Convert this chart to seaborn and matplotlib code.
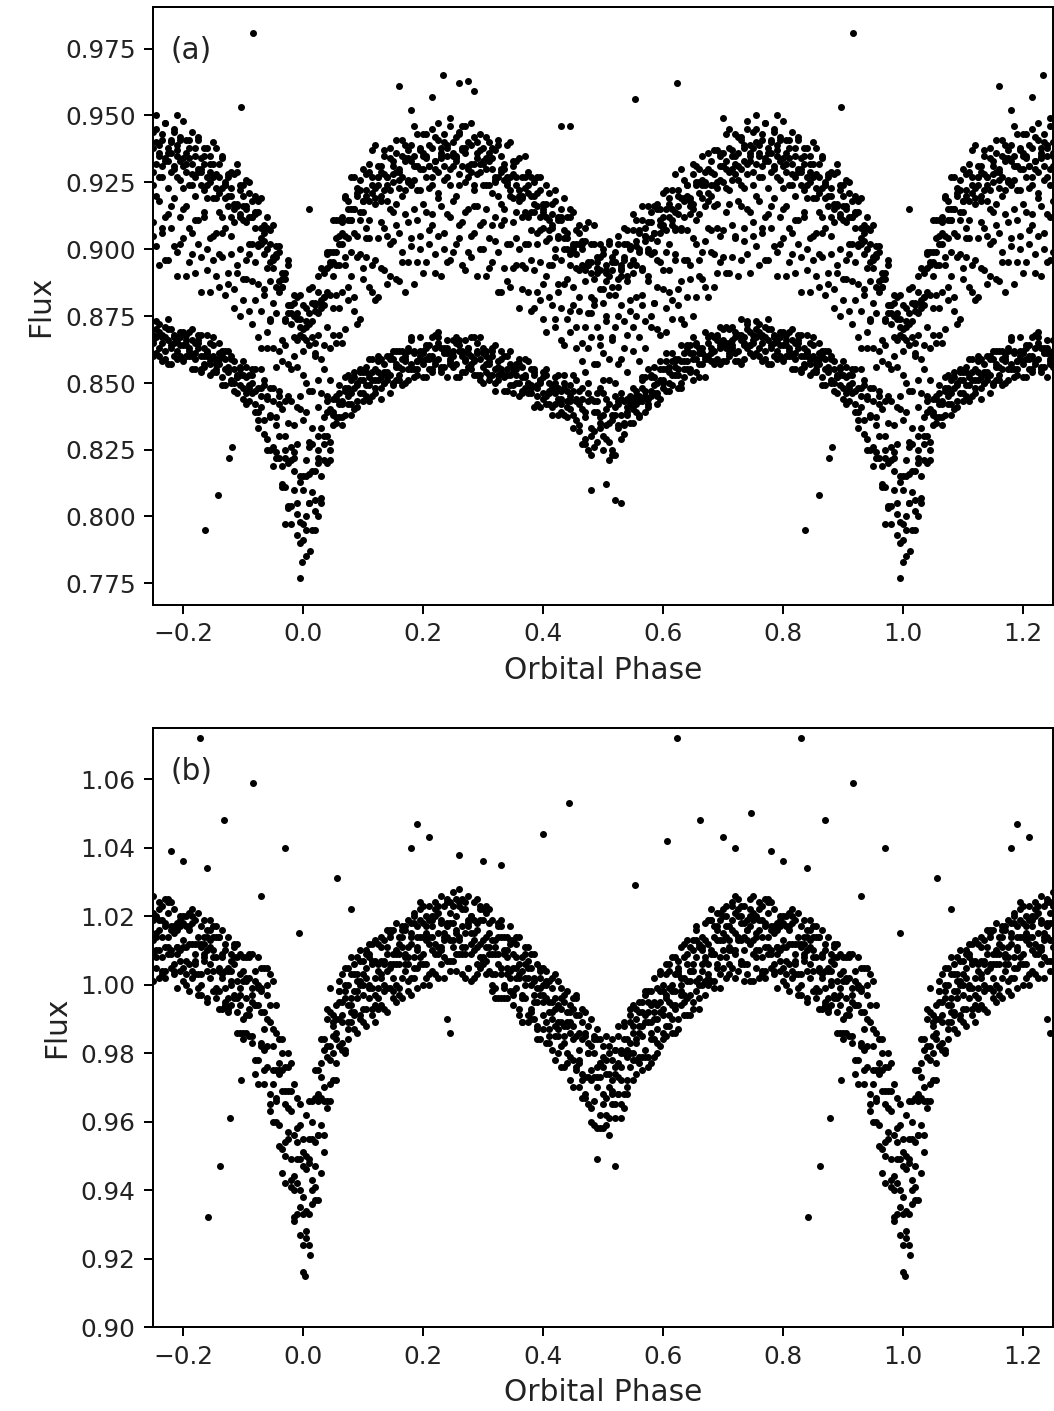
import numpy as np
import pandas as pd
import matplotlib
matplotlib.use("Agg")
import matplotlib.pyplot as plt
import seaborn as sns

# ---------------- data (phase in [0,1), flux in milli-units) ----------------
phase = [
0.000,0.005,0.010,0.015,0.020,0.025,0.030,0.035,0.040,0.045,0.050,0.055,0.060,0.065,0.070,0.075,0.080,0.085,0.090,0.095,
0.100,0.105,0.110,0.115,0.120,0.125,0.130,0.135,0.140,0.145,0.150,0.155,0.160,0.165,0.170,0.175,0.180,0.185,0.190,0.195,
0.200,0.205,0.210,0.215,0.220,0.225,0.230,0.235,0.240,0.245,0.250,0.255,0.260,0.265,0.270,0.275,0.280,0.285,0.290,0.295,
0.300,0.305,0.310,0.315,0.320,0.325,0.330,0.335,0.340,0.345,0.350,0.355,0.360,0.365,0.370,0.375,0.380,0.385,0.390,0.395,
0.400,0.405,0.410,0.415,0.420,0.425,0.430,0.435,0.440,0.445,0.450,0.455,0.460,0.465,0.470,0.475,0.480,0.485,0.490,0.495,
0.500,0.505,0.510,0.515,0.520,0.525,0.530,0.535,0.540,0.545,0.550,0.555,0.560,0.565,0.570,0.575,0.580,0.585,0.590,0.595,
0.600,0.605,0.610,0.615,0.620,0.625,0.630,0.635,0.640,0.645,0.650,0.655,0.660,0.665,0.670,0.675,0.680,0.685,0.690,0.695,
0.700,0.705,0.710,0.715,0.720,0.725,0.730,0.735,0.740,0.745,0.750,0.755,0.760,0.765,0.770,0.775,0.780,0.785,0.790,0.795,
0.800,0.805,0.810,0.815,0.820,0.825,0.830,0.835,0.840,0.845,0.850,0.855,0.860,0.865,0.870,0.875,0.880,0.885,0.890,0.895,
0.900,0.905,0.910,0.915,0.920,0.925,0.930,0.935,0.940,0.945,0.950,0.955,0.960,0.965,0.970,0.975,0.980,0.985,0.990,0.995]

# panel (a): upper branch (middle, upper edge, lower edge) and lower branch levels
upper_a = [
871,871,872,874,876,879,883,886,890,893,897,900,904,907,910,912,914,915,917,918,
920,921,922,923,924,925,926,926,927,927,928,928,929,929,930,930,931,931,932,932,
933,933,933,933,934,934,934,934,935,935,935,935,935,935,934,934,934,934,933,933,
932,931,931,930,930,929,928,927,927,926,925,924,923,922,921,920,919,918,917,915,
913,912,911,910,909,908,907,906,905,904,903,901,900,899,898,896,895,894,893,892,
891,891,891,892,893,894,895,896,897,898,900,901,902,903,904,905,906,907,908,909,
910,911,912,913,914,915,916,917,918,919,920,921,922,923,924,925,926,927,928,929,
930,931,932,932,933,933,934,934,935,935,936,936,936,936,936,935,935,935,935,934,
934,933,933,932,932,931,930,929,929,928,927,926,925,924,923,922,921,920,919,918,
917,915,914,912,911,909,907,904,902,899,897,894,891,887,884,881,878,875,873,872]

upper_a_top = [
876,876,877,879,881,884,888,891,895,898,902,905,909,912,915,917,919,920,922,923,
925,926,927,928,929,930,931,931,932,932,933,933,934,934,935,935,936,936,937,937,
938,938,938,938,939,939,939,939,940,940,940,940,940,940,939,939,939,939,938,938,
937,936,936,935,935,934,933,932,932,931,930,929,928,927,926,925,924,923,922,920,
918,917,916,915,914,913,912,911,910,909,908,906,905,904,903,901,900,899,898,897,
896,896,896,897,898,899,900,901,902,903,905,906,907,908,909,910,911,912,913,914,
915,916,917,918,919,920,921,922,923,924,925,926,927,928,929,930,931,932,933,934,
935,936,937,937,938,938,939,939,940,940,941,941,941,941,941,940,940,940,940,939,
939,938,938,937,937,936,935,934,934,933,932,931,930,929,928,927,926,925,924,923,
922,920,919,917,916,914,912,909,907,904,902,899,896,892,889,886,883,880,878,877]

upper_a_bot = [
866,866,867,869,871,874,878,881,885,888,892,895,899,902,905,907,909,910,912,913,
915,916,917,918,919,920,921,921,922,922,923,923,924,924,925,925,926,926,927,927,
928,928,928,928,929,929,929,929,930,930,930,930,930,930,929,929,929,929,928,928,
927,926,926,925,925,924,923,922,922,921,920,919,918,917,916,915,914,913,912,910,
908,907,906,905,904,903,902,901,900,899,898,896,895,894,893,891,890,889,888,887,
886,886,886,887,888,889,890,891,892,893,895,896,897,898,899,900,901,902,903,904,
905,906,907,908,909,910,911,912,913,914,915,916,917,918,919,920,921,922,923,924,
925,926,927,927,928,928,929,929,930,930,931,931,931,931,931,930,930,930,930,929,
929,928,928,927,927,926,925,924,924,923,922,921,920,919,918,917,916,915,914,913,
912,910,909,907,906,904,902,899,897,894,892,889,886,882,879,876,873,870,868,867]

lower_a = [
805,806,808,811,814,818,822,826,830,834,837,839,841,843,844,845,846,847,848,848,
849,850,850,851,851,852,852,853,853,854,854,855,855,856,856,857,857,858,858,858,
859,859,859,860,860,860,860,860,860,860,860,860,860,860,859,859,859,859,858,858,
857,857,856,856,855,855,854,854,853,853,852,852,851,851,850,850,849,849,848,848,
847,847,846,846,845,845,844,844,843,843,842,841,840,839,838,837,836,836,835,835,
834,834,834,834,835,836,837,838,839,840,841,842,843,844,845,846,847,848,849,850,
851,852,853,853,854,855,856,856,857,858,858,859,859,860,860,861,861,862,862,863,
863,863,864,864,864,864,865,865,865,865,865,865,865,865,865,865,864,864,864,864,
863,863,862,862,861,861,860,860,859,859,858,858,857,857,856,855,854,853,852,851,
850,849,848,847,846,844,843,840,838,835,833,830,827,824,821,818,815,812,809,807]

# panel (b): light-curve level
center_b = [
942,943,945,949,953,959,965,970,975,979,983,986,989,991,993,994,995,996,997,998,
999,1000,1000,1001,1001,1002,1003,1004,1004,1005,1005,1006,1007,1008,1008,1009,1009,1010,1010,1011,
1011,1012,1012,1013,1013,1014,1014,1014,1014,1015,1015,1015,1015,1015,1014,1014,1013,1013,1012,1012,
1011,1011,1010,1009,1008,1008,1007,1006,1005,1005,1004,1003,1002,1001,1000,999,998,997,996,995,
994,993,992,991,990,989,988,987,986,985,984,983,981,980,978,977,975,974,972,971,
970,970,970,971,972,974,975,977,978,980,981,983,984,986,987,988,989,990,991,992,
993,994,995,996,997,998,999,1000,1001,1002,1003,1004,1005,1006,1007,1008,1009,1010,1010,1011,
1011,1012,1012,1013,1013,1013,1013,1013,1013,1013,1013,1013,1013,1013,1013,1013,1012,1012,1011,1011,
1010,1010,1010,1010,1009,1009,1008,1008,1007,1007,1006,1005,1004,1004,1003,1002,1001,1000,999,998,
997,996,995,994,992,991,989,987,985,982,979,975,970,967,963,959,955,952,948,945]

# scatter of individual points about the levels (milli-units)
upper_a_off1 = [
3,-5,8,1,-2,6,-8,0,4,-3,9,-1,2,-6,5,1,-4,7,-2,3,
-7,2,5,-1,10,-3,0,6,-5,2,-2,8,-4,1,4,-9,3,-1,6,0,
5,-3,1,7,-6,2,-1,4,-2,9,0,-5,3,6,-3,1,8,-7,2,-1,
-4,6,0,3,-8,5,2,-2,7,-4,1,4,-6,0,9,-1,3,-3,5,2,
-1,7,-5,2,4,-2,0,8,-6,3,6,-4,1,-1,5,-7,2,10,-3,0,
4,-2,6,-5,1,3,-8,7,0,-3,2,5,-1,8,-4,0,3,-6,4,1,
-3,6,2,-7,9,0,-2,4,1,-5,7,-1,3,-4,0,6,-2,5,-8,2,
1,-3,8,0,-6,4,2,-1,5,-4,3,9,-2,0,6,-7,1,4,-3,2,
-5,3,0,7,-2,5,-6,1,4,-1,8,-3,2,6,-4,0,3,-8,5,1,
-2,6,2,-5,4,0,7,-3,1,3,-6,2,5,-1,0,8,-4,3,-2,6]
upper_a_off2 = [
-6,2,-1,7,-4,0,5,-9,3,1,-3,6,-7,0,4,-2,8,-5,1,-1,
5,-4,2,9,-6,1,-2,4,-8,6,0,3,-5,7,-1,2,-3,10,-6,1,
-2,5,-7,0,3,8,-4,1,-1,6,-5,2,4,-3,7,-9,0,3,-2,5,
1,-6,4,-1,2,7,-3,0,-5,9,3,-2,6,-8,1,4,-4,2,-1,7,
-3,0,5,-6,8,-1,3,-4,2,6,-7,1,4,-2,0,9,-5,3,-1,5,
2,-4,7,0,-3,6,-6,1,5,-2,8,-5,0,3,-1,6,-7,4,2,-3,
6,-1,0,4,-5,2,9,-3,1,-6,3,5,-2,7,-4,0,2,-8,4,1,
-4,7,1,-2,5,-7,3,0,8,-1,-3,4,-6,2,6,-2,0,5,-5,3,
9,-2,3,-5,1,6,-1,4,-7,2,0,7,-3,5,-4,1,-6,3,8,-1,
2,-5,6,1,-3,4,-8,0,5,-2,7,-1,3,-6,2,10,-4,0,4,-3]
upper_a_off3 = [
1,7,-3,4,-6,2,0,-2,8,-5,3,-1,6,0,-8,4,2,-4,9,-2,
-1,4,-6,3,0,7,-3,1,5,-7,2,6,-1,-4,8,0,-2,5,-5,3,
7,-1,3,-4,1,-8,5,2,-3,0,6,4,-6,1,9,-2,3,-5,0,4,
-3,8,-2,5,0,-4,6,-7,3,1,-1,5,2,-5,7,-3,0,4,-6,2,
6,-4,1,3,-7,2,9,-1,0,-5,4,2,-3,6,-1,3,-8,0,5,-2,
-1,5,-3,8,-5,0,3,6,-2,1,-4,7,2,-6,4,-1,9,-3,0,5,
3,-7,5,1,-2,6,-4,0,7,-1,2,-5,4,8,-3,1,-1,6,-6,2,
0,4,-5,3,7,-2,1,-6,2,5,-2,9,-4,0,3,-7,6,1,-3,4,
-6,1,6,-3,0,4,-1,8,-5,2,5,-2,1,-7,7,3,-4,0,2,-1,
4,0,-7,5,2,-3,6,-1,3,-6,1,8,-2,4,-5,0,3,-3,6,1]
upper_a_off4 = [
-4,0,5,-2,9,-6,3,1,-1,6,-2,4,-5,8,0,-3,2,5,-7,1,
3,-8,1,6,-2,4,-1,7,-4,0,5,-6,2,3,-3,9,-1,0,4,-5,
2,6,-5,-1,4,0,7,-3,5,-6,1,3,-2,8,-4,2,0,-7,6,1,
5,-2,7,-4,1,3,-6,4,2,-1,8,-5,0,3,-2,6,-7,1,4,-3,
0,5,-2,8,-4,1,-6,3,6,-1,2,-3,7,0,-5,4,1,-8,3,5,
-6,2,4,-1,7,-3,0,5,-4,8,1,-2,3,-5,6,0,-3,4,-7,2,
4,1,-5,7,-1,3,-3,6,-6,2,0,8,-4,1,5,-2,3,-6,0,7,
6,-3,2,-1,0,8,-5,4,-2,3,-7,1,5,-4,2,6,-1,0,9,-3,
2,4,-4,1,-7,3,5,-2,0,6,-3,2,-6,4,1,-1,7,-5,3,0,
-1,6,3,-5,8,-2,0,4,-4,1,5,-3,2,7,-6,3,-1,5,-2,4]
mid_a_off1 = [
-18,-32,-25,-41,-15,-28,-37,-22,-45,-30,-19,-35,-26,-42,-16,-31,-24,-38,-20,-44,
-27,-17,-36,-29,-43,-21,-33,-18,-40,-25,-14,-39,-23,-34,-46,-20,-30,-16,-37,-27,
-42,-19,-31,-24,-36,-15,-44,-28,-22,-39,-17,-33,-26,-41,-20,-35,-29,-18,-43,-24,
-32,-16,-38,-21,-27,-45,-19,-34,-25,-40,-15,-30,-23,-37,-28,-18,-42,-26,-33,-20,
-39,-22,-29,-16,-35,-24,-41,-19,-31,-27,-17,-38,-23,-34,-44,-20,-28,-15,-36,-25,
-30,-18,-40,-26,-22,-37,-16,-33,-43,-21,-29,-19,-35,-24,-41,-17,-31,-27,-38,-14,
-25,-42,-20,-32,-18,-36,-28,-45,-22,-30,-16,-39,-26,-34,-21,-43,-19,-29,-37,-24,
-33,-17,-41,-23,-28,-15,-38,-31,-20,-44,-26,-35,-18,-30,-40,-22,-27,-16,-36,-32,
-19,-43,-25,-34,-21,-29,-46,-17,-37,-24,-31,-20,-39,-27,-15,-35,-23,-42,-28,-18,
-36,-26,-16,-40,-30,-22,-44,-19,-33,-25,-17,-38,-29,-21,-41,-24,-35,-15,-32,-27]
mid_a_off2 = [
-35,-21,-44,-27,-16,-38,-24,-31,-19,-42,-29,-17,-36,-23,-40,-26,-15,-33,-45,-20,
-31,-24,-18,-39,-28,-43,-16,-34,-22,-37,-25,-19,-41,-30,-17,-35,-27,-44,-21,-32,
-16,-38,-26,-20,-43,-29,-18,-34,-40,-23,-36,-15,-31,-25,-42,-19,-37,-28,-17,-33,
-22,-41,-27,-35,-18,-30,-44,-16,-39,-24,-32,-20,-45,-28,-19,-36,-23,-40,-15,-34,
-26,-43,-17,-31,-38,-21,-29,-42,-16,-35,-24,-30,-18,-41,-27,-33,-19,-37,-22,-28,
-40,-16,-32,-25,-43,-19,-36,-23,-29,-17,-38,-26,-44,-20,-31,-15,-35,-27,-22,-41,
-18,-33,-28,-39,-16,-30,-42,-21,-36,-25,-45,-19,-32,-24,-38,-17,-27,-41,-20,-34,
-23,-40,-15,-35,-29,-43,-18,-26,-37,-21,-31,-16,-42,-28,-24,-39,-19,-34,-45,-22,
-30,-17,-38,-26,-41,-20,-33,-15,-29,-44,-22,-36,-27,-18,-40,-31,-16,-35,-25,-43,
-28,-19,-37,-24,-16,-42,-30,-21,-39,-26,-34,-18,-44,-29,-20,-36,-23,-41,-17,-32]
lower_a_off1 = [
-14,9,-3,16,-8,4,-17,11,0,-6,7,-2,5,-9,3,8,-4,1,-7,6,
2,-5,9,0,-3,6,-8,4,1,-1,-4,7,-2,3,-6,5,10,-3,0,2,
-7,4,1,-5,8,-1,3,-4,6,-2,0,5,-8,2,7,-3,1,-6,4,9,
-1,3,-5,6,0,-2,8,-7,2,4,-3,1,6,-4,9,-1,0,5,-6,3,
7,-2,4,-8,1,3,-5,6,0,-3,5,2,-6,9,-1,-12,8,-4,11,2,
-9,6,-13,4,10,-3,7,-7,2,5,-1,3,-5,8,0,-4,6,-2,1,-6,
4,9,-3,0,5,-7,2,-1,7,-4,3,6,-2,1,-8,4,0,5,-3,8,
-5,2,6,-1,3,-6,9,0,-2,4,1,-4,7,-7,2,5,-1,3,-5,0,
6,-3,1,8,-2,4,-6,0,3,-1,9,-4,2,5,-7,1,6,-3,0,4,
-2,7,-5,3,1,-8,12,-4,6,-10,15,-6,3,-13,9,17,-11,5,-16,8]
lower_a_off2 = [
10,-6,18,-2,-12,7,-15,4,13,-9,2,6,-4,0,8,-3,5,-7,1,3,
-6,4,-1,8,-5,2,0,-3,7,-8,5,1,-4,6,3,-2,9,-6,0,4,
2,-7,5,0,-3,9,-5,1,3,-1,-4,7,2,-6,0,4,-2,8,-5,1,
6,-3,1,4,-8,3,0,-1,7,-4,2,5,-6,1,-2,8,-3,4,0,-7,
-3,6,0,-5,7,-1,3,9,-6,2,-4,10,-8,1,-11,6,-13,3,8,-2,
12,-5,1,-9,6,-2,9,-4,0,3,-6,5,2,-1,7,-5,0,4,-3,8,
-1,3,-6,5,2,-2,8,-4,1,6,-7,0,4,-3,9,-1,2,-5,6,0,
3,-5,1,7,-3,4,-8,2,5,-1,0,8,-2,3,-6,1,6,-4,2,5,
-4,1,7,-2,0,5,-5,3,9,-6,2,-1,4,-8,6,0,-3,5,1,-2,
8,-3,0,6,-7,4,-2,11,-9,3,-14,7,-5,16,-10,2,-18,12,-4,6]
lower_a_off3 = [
-8,15,-3,6,-19,2,11,-5,9,-13,-3,5,1,-6,4,0,-8,7,2,-2,
5,-1,-7,3,0,8,-4,1,-2,6,-5,2,7,-1,4,-6,0,3,-3,9,
-2,5,0,-6,3,7,-4,2,-8,1,6,-3,4,0,-5,2,8,-1,3,-7,
4,0,-3,7,-5,1,5,-2,0,9,-6,3,-1,5,2,-4,6,-8,1,3,
-1,8,-4,2,5,-7,0,4,-2,6,-9,3,7,-12,1,9,-6,-10,4,13,
-4,0,8,-11,3,6,-8,5,-1,2,7,-3,0,4,-6,9,-2,1,-4,5,
0,-5,3,8,-1,4,-6,2,6,-3,1,5,-7,3,0,-2,7,-4,4,1,
7,0,-4,2,5,-2,3,-6,8,-1,-5,2,4,0,-3,9,-7,1,3,-4,
1,5,-2,4,-6,7,0,-3,2,6,-4,1,8,-5,3,-1,5,-6,0,2,
-6,3,5,-1,9,-5,2,-9,7,13,-7,4,18,-12,1,-15,6,10,-8,-17]
lower_a_off4 = [
5,-11,8,-16,3,12,-7,1,-10,6,1,-4,8,-1,-6,3,0,5,-5,7,
-3,6,2,-6,4,-1,7,-3,0,5,8,-4,1,-7,2,6,-2,4,-5,1,
3,0,-4,7,-2,5,-6,3,1,-3,2,-8,6,1,-1,4,-4,0,7,-5,
-7,5,2,-3,9,-4,1,6,-6,0,4,-2,8,-5,3,0,-1,6,-3,2,
5,-5,1,3,-3,8,-2,-6,4,0,11,-5,2,5,-9,13,-3,7,-7,0,
4,10,-6,2,-12,7,1,-3,5,-5,3,0,-6,7,2,-2,5,8,-7,1,
-3,6,1,-4,4,0,-8,5,-2,3,9,-5,2,1,-1,6,-3,0,5,-6,
2,8,-3,0,-6,4,1,-1,7,-4,3,5,-5,2,6,-8,0,4,-2,3,
-5,3,0,-7,4,2,8,-4,1,-2,6,-3,0,3,-1,7,-4,2,-6,5,
3,-7,1,8,-4,-11,5,9,-13,2,10,-8,15,-5,4,-14,11,-2,18,-9]

b_off1 = [
-18,7,21,-9,14,-3,-20,11,4,-13,6,-2,9,-8,12,-5,1,7,-11,3,
-6,10,-1,5,-12,2,8,-4,0,11,-7,3,-10,6,1,-3,9,-8,4,13,
-2,5,-9,1,7,-5,12,-1,3,-11,8,0,-6,10,-3,4,-12,2,6,-7,
11,-4,1,-9,5,9,-2,-6,3,7,-10,2,12,-5,0,6,-8,4,-1,10,
-3,8,-7,1,13,-4,5,-11,2,9,-6,14,0,-13,7,3,-15,10,-2,6,
12,-8,4,-3,9,-6,1,11,-10,3,-1,7,-5,2,10,-9,5,0,-4,12,
-7,3,9,-2,-11,6,1,-5,8,2,-8,13,-3,4,0,-6,10,-1,7,-12,
2,5,-9,11,-3,0,7,-7,3,9,-4,1,-11,6,12,-2,4,-8,0,8,
-5,10,2,-6,3,-12,9,1,-3,6,11,-7,0,5,-9,2,8,-4,13,-1,
4,-10,7,1,-14,9,16,-6,12,-17,3,19,-11,8,-21,5,14,-8,-15,20]
b_off2 = [
9,-15,3,17,-6,-22,12,0,15,-8,-3,8,1,-10,5,11,-6,2,-1,9,
4,-7,12,-2,6,-9,0,3,-5,10,1,-11,5,8,-4,2,-7,11,0,-3,
7,3,-12,6,-1,9,-4,0,10,-8,-2,5,13,-6,1,-9,7,-3,4,11,
-5,0,8,-11,3,-2,10,-7,5,-1,9,-4,1,-12,6,3,-6,12,-9,2,
6,-10,3,11,-5,0,8,-2,-9,4,12,-7,5,9,-11,-4,15,-8,1,13,
-12,4,10,-6,2,14,-3,-9,6,0,7,-5,11,-1,-8,4,0,-11,8,3,
5,-9,0,12,-4,7,-1,2,-10,9,3,-6,6,-2,11,-8,1,4,-4,10,
-1,8,-6,3,13,-9,5,-3,0,7,-12,2,9,-5,4,1,-7,10,-2,6,
8,-3,11,-8,0,5,-11,4,7,-1,2,9,-6,12,-4,-9,3,6,-13,1,
-7,12,-2,5,9,-13,3,18,-9,7,-19,11,4,-15,13,-4,22,-12,6,-18]
b_off3 = [
-4,19,-12,6,-16,9,2,-19,7,13,2,-9,6,4,-13,0,8,-4,11,-7,
-2,5,9,-8,1,-3,11,-6,7,0,-9,4,2,-12,8,-1,5,10,-5,3,
12,-6,0,4,-10,7,-3,1,-7,9,3,-11,8,2,-5,12,-1,6,-9,0,
-3,10,5,-6,1,-12,7,3,-2,8,-7,11,0,-4,9,-10,2,5,-8,4,
1,7,-9,4,-2,12,-6,10,3,-13,0,8,-4,13,-10,6,-3,11,-14,2,
-5,15,-9,1,-7,11,5,-13,3,9,-3,1,8,-7,4,10,-5,2,-11,6,
0,9,-4,2,6,-8,12,-3,5,-1,-10,4,7,-6,1,-2,13,-9,3,8,
-6,2,-1,10,-4,7,0,-12,6,4,8,-5,3,1,-9,11,-3,5,0,-7,
3,-7,6,12,-2,-10,4,0,9,-5,-8,3,10,-1,7,-6,0,11,-3,5,
11,-5,14,-11,2,17,-7,0,20,-14,8,-9,-17,13,2,21,-6,-20,10,4]
b_off4 = [
13,-9,4,-13,22,-3,8,-14,18,-1,-11,4,12,-2,7,-7,-3,10,1,-8,
8,-12,0,6,-4,10,-9,2,12,-6,4,0,-8,9,-2,-11,3,-5,7,11,
-5,8,2,-9,11,-3,5,-12,0,6,-8,1,9,-4,-12,3,7,0,-6,10,
2,-8,12,0,-5,6,-11,4,9,-3,5,-1,-9,7,2,12,-5,-2,10,-11,
-7,3,9,-1,6,-9,1,-4,12,7,-14,2,10,-6,14,-12,7,-1,4,-9,
9,-3,0,13,-11,-1,6,3,-8,11,5,-9,2,9,-6,1,-3,12,-8,0,
-2,12,-7,4,1,-11,3,8,-5,2,10,-3,-9,5,-6,11,0,-1,6,-8,
11,-4,5,-8,2,9,-6,1,-10,12,0,7,-3,-10,5,8,-2,3,-12,9,
-9,1,-4,8,10,-6,3,-1,-11,12,4,-6,1,-11,9,3,-7,12,2,-4,
-13,6,-4,15,-18,3,10,-16,5,21,-8,0,14,-22,6,10,-14,19,1,-5]
b_off5 = [
-9,3,-21,11,1,16,-6,14,-11,20,5,-14,9,0,3,-10,13,-5,6,2,
-10,2,8,11,-7,4,-1,-11,5,9,-3,12,7,-6,0,10,-12,8,1,-5,
3,-10,11,7,-4,1,-8,9,4,-2,12,-6,-1,7,10,-9,2,-11,13,-4,
8,3,-6,10,-9,1,12,-10,0,-7,1,9,4,-12,-4,8,11,-7,3,7,
11,-4,0,-10,3,5,-12,8,-6,1,9,-8,-11,4,-5,11,0,-15,12,6,
-2,8,-14,7,4,-6,-10,12,1,-4,13,0,-7,6,11,-12,9,-6,3,-10,
7,-6,4,-10,11,5,-2,-9,12,-5,1,9,-12,0,6,-5,-8,7,11,-3,
4,11,-2,6,-11,1,10,5,-7,-1,13,-8,6,10,-11,-4,12,-6,5,-1,
10,-10,7,2,-6,12,-8,6,3,9,-2,12,-11,4,1,-10,6,-3,9,-12,
7,0,-10,3,12,-20,9,5,-3,12,-4,-15,7,2,-9,17,-12,4,19,-10]
b_off6 = [
5,-17,10,-6,-12,7,19,-4,-9,3,8,0,-7,12,-12,6,-1,-9,4,12,
1,9,-4,-10,12,-6,4,9,-12,1,11,-6,-1,3,9,-8,6,-2,-11,8,
-11,1,7,-3,9,-12,4,-6,11,3,-4,10,-2,-12,8,5,-4,11,-1,7,
-4,12,-1,4,-12,10,-4,8,-9,12,-6,5,-11,3,11,-8,7,0,-12,9,
3,11,-5,8,-12,-2,11,1,6,-6,4,13,-3,-8,8,3,-11,6,15,-13,
6,-11,12,-2,9,3,-14,7,-6,13,-9,10,4,-11,2,7,-12,5,-1,11,
-9,2,11,-6,-3,9,-5,12,0,-11,7,12,-5,8,-10,4,10,-11,-5,2,
9,-10,1,-3,8,12,-7,10,3,-12,6,-3,11,-9,-2,12,5,-9,7,-4,
1,7,-12,10,-3,3,-5,11,-12,4,8,-9,10,-2,-8,12,-1,8,-7,11,
-11,5,13,-9,2,8,-6,-12,15,-19,22,-8,5,17,-13,-2,8,-21,-6,14]

# isolated points
out_a_phase = [0.916, 0.896, 0.837, 0.859, 0.876, 0.882, 0.010, 0.160, 0.233, 0.553, 0.623,
               0.444, 0.430, 0.995, 0.999, 0.005, 0.012, 0.260, 0.275, 0.285, 0.215,
               0.520, 0.530, 0.480, 0.505, 0.025, 0.970, 0.790, 0.700, 0.180]
out_a_flux = [981, 953, 795, 808, 822, 826, 915, 961, 965, 956, 962,
              946, 946, 777, 783, 785, 787, 962, 963, 959, 957,
              806, 805, 810, 812, 800, 797, 950, 949, 952]
out_b_phase = [0.829, 0.916, 0.869, 0.970, 0.841, 0.861, 0.878, 0.896, 0.623, 0.443,
               0.553, 0.190, 0.994, 0.056, 0.400, 0.661, 0.746, 0.607, 0.245, 0.240,
               0.000, 0.003, 0.012, 0.490, 0.520, 0.180, 0.210, 0.260, 0.300, 0.330,
               0.700, 0.720, 0.780, 0.800, 0.840, 0.930, 0.080]
out_b_flux = [1072, 1059, 1048, 1040, 932, 947, 961, 972, 1072, 1053,
              1029, 1047, 1015, 1031, 1044, 1048, 1050, 1042, 986, 990,
              916, 915, 921, 949, 947, 1040, 1043, 1038, 1036, 1035,
              1043, 1040, 1039, 1036, 1034, 1026, 1022]

x_ticks = [-0.2, 0.0, 0.2, 0.4, 0.6, 0.8, 1.0, 1.2]
y_ticks_a = [0.775, 0.800, 0.825, 0.850, 0.875, 0.900, 0.925, 0.950, 0.975]
y_ticks_b = [0.90, 0.92, 0.94, 0.96, 0.98, 1.00, 1.02, 1.04, 1.06]


def collect(rows, extra_phase, extra_flux):
    ph_list, fl_list = [], []
    for level, off in rows:
        n = min(len(phase), len(level), len(off))
        ph_list.append(np.asarray(phase[:n], float))
        fl_list.append((np.asarray(level[:n], float) + np.asarray(off[:n], float)) / 1000.0)
    n = min(len(extra_phase), len(extra_flux))
    ph_list.append(np.asarray(extra_phase[:n], float))
    fl_list.append(np.asarray(extra_flux[:n], float) / 1000.0)
    ph = np.concatenate(ph_list)
    fl = np.concatenate(fl_list)
    # phase-folded display over -0.25 .. 1.25 (each cycle shown repeatedly)
    xs = np.concatenate([ph - 1.0, ph, ph + 1.0])
    ys = np.concatenate([fl, fl, fl])
    keep = (xs >= -0.25) & (xs <= 1.25)
    return pd.DataFrame({"phase": xs[keep], "flux": ys[keep]})


df_a = collect([(upper_a_top, upper_a_off1), (upper_a_top, upper_a_off2),
                (upper_a_bot, upper_a_off3), (upper_a_bot, upper_a_off4),
                (upper_a, mid_a_off1), (upper_a, mid_a_off2),
                (lower_a, lower_a_off1), (lower_a, lower_a_off2),
                (lower_a, lower_a_off3), (lower_a, lower_a_off4)],
               out_a_phase, out_a_flux)
df_b = collect([(center_b, b_off1), (center_b, b_off2), (center_b, b_off3),
                (center_b, b_off4), (center_b, b_off5), (center_b, b_off6)],
               out_b_phase, out_b_flux)

# ---------------- styling ----------------
sns.set_style("ticks")
plt.rcParams.update({
    "font.family": ["DejaVu Sans"],
    "axes.edgecolor": "black",
    "axes.linewidth": 0.8,
    "xtick.color": "black",
    "ytick.color": "black",
    "xtick.labelcolor": "#222222",
    "ytick.labelcolor": "#222222",
    "text.color": "#222222",
    "axes.labelcolor": "#222222",
    "xtick.labelsize": 10,
    "ytick.labelsize": 10,
    "xtick.major.size": 3.5,
    "ytick.major.size": 3.5,
    "xtick.major.width": 0.8,
    "ytick.major.width": 0.8,
})

DPI = 178
fig = plt.figure(figsize=(1054.3 / DPI, 1411.3 / DPI), dpi=DPI)
W, H = 1054.0, 1411.0
ax_a = fig.add_axes([153 / W, 1 - 605 / H, 900 / W, 598 / H])
ax_b = fig.add_axes([153 / W, 1 - 1327 / H, 900 / W, 599 / H])

for ax, df, ylim, yt, tag in [(ax_a, df_a, (0.7669, 0.9907), y_ticks_a, "(a)"),
                              (ax_b, df_b, (0.900, 1.075), y_ticks_b, "(b)")]:
    sns.scatterplot(data=df, x="phase", y="flux", ax=ax, color="black",
                    marker="o", s=8, linewidth=0, legend=False)
    ax.set_xlim(-0.25, 1.25)
    ax.set_ylim(*ylim)
    ax.set_xticks(x_ticks)
    ax.set_yticks(yt)
    ax.set_xlabel("Orbital Phase", fontsize=12)
    ax.set_ylabel("Flux", fontsize=12)
    ax.text(0.019, 0.927, tag, transform=ax.transAxes, fontsize=12,
            ha="left", va="center")
    for sp in ax.spines.values():
        sp.set_visible(True)
        sp.set_color("black")

ax_b.yaxis.set_major_formatter(matplotlib.ticker.FormatStrFormatter("%.2f"))
ax_a.yaxis.set_major_formatter(matplotlib.ticker.FormatStrFormatter("%.3f"))
fmt_x = matplotlib.ticker.FuncFormatter(lambda v, p: f"{v:.1f}".replace("-", "\u2212"))
ax_a.xaxis.set_major_formatter(fmt_x)
ax_b.xaxis.set_major_formatter(fmt_x)

fig.savefig("out.png", dpi=DPI)
